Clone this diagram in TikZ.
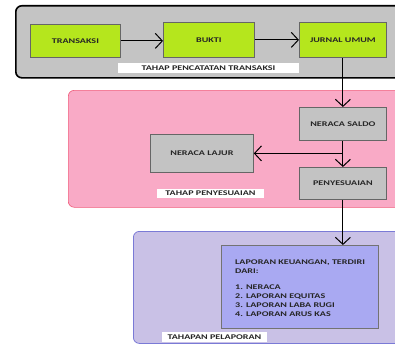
\documentclass[tikz,border=0pt]{standalone}
\usepackage{fontspec}
\setmainfont{Carlito}[FakeStretch=1.4]
\usetikzlibrary{arrows.meta}
\definecolor{cLime}{HTML}{B5E61D}
\definecolor{cGrayBg}{HTML}{C4C4C4}
\definecolor{cGrayBox}{HTML}{C3C3C3}
\definecolor{cPink}{HTML}{F9AAC6}
\definecolor{cPinkLine}{HTML}{F05A7A}
\definecolor{cLav}{HTML}{C9C1E6}
\definecolor{cLavLine}{HTML}{7A7AD6}
\definecolor{cBlueBox}{HTML}{A9A9F2}
\begin{document}
\begin{tikzpicture}[x=1pt,y=-1pt,
  font=\fontsize{7.2}{9}\selectfont\bfseries,
  every node/.style={inner sep=0pt, text=black!85},
  container/.style={anchor=north west, rounded corners=6pt},
  greenbox/.style={anchor=north west, draw=black!60, line width=0.8pt, fill=cLime},
  graybox/.style={anchor=north west, draw=black!60, line width=0.8pt, fill=cGrayBox},
  tag/.style={fill=white},
  arr/.style={line width=1pt, -{Straight Barb[length=7pt,width=15pt,line width=1pt]}},
  ln/.style={line width=1pt}
]
\useasboundingbox (0,0) rectangle (395,345);
\clip (0,0) rectangle (395,345);
% containers
\node[container, draw=black, line width=1.6pt, fill=cGrayBg, minimum width=400pt, minimum height=72pt] (stage1) at (15,5) {};
\node[container, draw=cPinkLine, line width=0.6pt, fill=cPink, minimum width=340pt, minimum height=117pt] (stage2) at (68,90) {};
\node[container, draw=cLavLine, line width=0.8pt, fill=cLav, minimum width=280pt, minimum height=112pt] (stage3) at (133,231) {};
% stage 1
\node[greenbox, minimum width=90pt, minimum height=33pt] (transaksi) at (30,24) {TRANSAKSI};
\node[greenbox, minimum width=91pt, minimum height=35pt] (bukti) at (163,22) {BUKTI};
\node[greenbox, minimum width=87pt, minimum height=35pt] (jurnal) at (299,22) {JURNAL UMUM};
\node[tag, minimum width=181pt, minimum height=10pt] (tag1) at (208.5,68) {TAHAP PENCATATAN TRANSAKSI};
% stage 2
\node[graybox, minimum width=87pt, minimum height=33pt] (saldo) at (299,107) {NERACA SALDO};
\node[graybox, minimum width=103pt, minimum height=38pt] (lajur) at (150,134) {NERACA LAJUR};
\node[graybox, minimum width=87pt, minimum height=32pt] (penyesuaian) at (299,167) {PENYESUAIAN};
\node[tag, minimum width=107pt, minimum height=9pt] (tag2) at (210.5,193) {TAHAP PENYESUAIAN};
% stage 3
\node[anchor=north west, draw=black!55, line width=0.8pt, fill=cBlueBox, minimum width=157pt, minimum height=83pt] (laporan) at (221,245) {};
\node[anchor=north west, align=left] (laptext) at (235,260) {LAPORAN KEUANGAN, TERDIRI\\DARI:\\[7pt]1. NERACA\\2. LAPORAN EQUITAS\\3. LAPORAN LABA RUGI\\4. LAPORAN ARUS KAS};
\node[tag, minimum width=105pt, minimum height=10pt] (tag3) at (214.5,337) {TAHAPAN PELAPORAN};
% connectors
\draw[arr] (transaksi.east) -- (transaksi.east -| bukti.west);
\draw[arr] (bukti.east) -- (bukti.east -| jurnal.west);
\draw[arr] (jurnal.south) -- (saldo.north);
\coordinate (br) at (saldo.south |- lajur.east);
\draw[ln] (saldo.south) -- (br);
\draw[arr] (br) -- (penyesuaian.north);
\draw[arr] (br) -- (lajur.east);
\draw[arr] (penyesuaian.south) -- (penyesuaian.south |- laporan.north);
\end{tikzpicture}
\end{document}
